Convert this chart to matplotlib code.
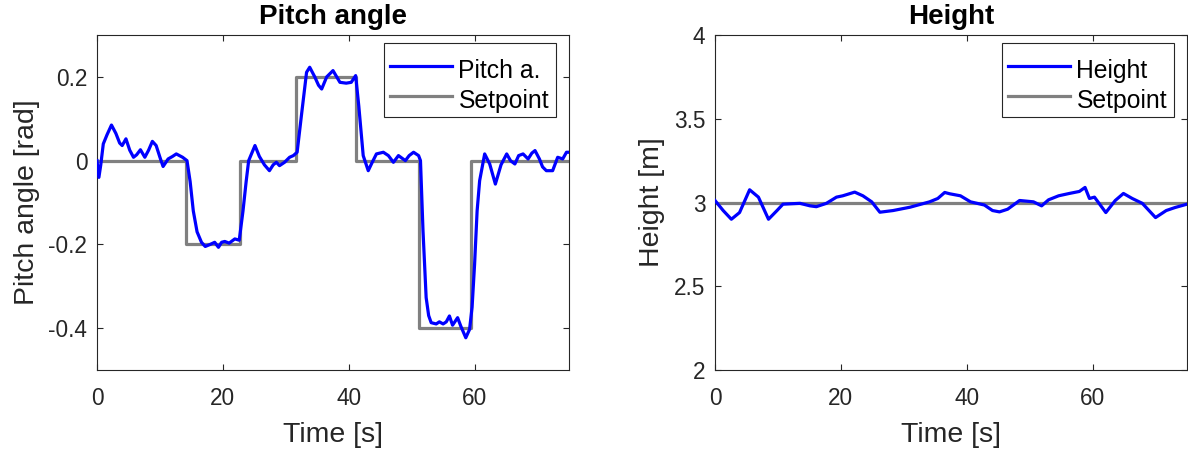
import matplotlib
matplotlib.use("Agg")
import matplotlib.pyplot as plt
import matplotlib.transforms as mtransforms
import numpy as np

plt.rcParams['font.family'] = ['Liberation Sans', 'DejaVu Sans']

# ---- data ----
t_pitch = [0, 0.3, 0.6, 1.0, 1.6, 2.3, 3.0, 3.6, 4.0, 4.6, 5.2, 5.8, 6.3, 6.9, 7.6,
           8.2, 8.8, 9.4, 10.0, 10.5, 11.3, 12.0, 12.6, 13.6, 14.3, 14.8, 15.3, 15.9,
           16.6, 17.2, 18.0, 18.7, 19.3, 19.8, 20.3, 21.0, 21.9, 22.6, 23.2, 23.7,
           24.1, 25.1, 25.8, 26.6, 27.4, 28.0, 28.5, 29.0, 29.8, 30.6, 31.2, 31.8,
           32.5, 33.3, 33.8, 34.6, 35.2, 35.7, 36.5, 37.5, 38.6, 39.6, 40.4, 41.1,
           41.6, 42.3, 43.1, 43.7, 44.4, 45.5, 46.3, 47.1, 47.9, 49.0, 49.6, 50.3,
           51.1, 51.4, 51.8, 52.3, 52.7, 53.1, 53.9, 54.4, 55.0, 55.5, 56.0, 56.5,
           57.3, 57.8, 58.6, 59.2, 59.6, 60.0, 60.4, 60.8, 61.6, 62.4, 63.3, 64.2,
           65.1, 65.7, 66.4, 67.0, 67.7, 68.5, 69.1, 69.6, 70.3, 70.8, 71.4, 72.4,
           73.2, 74.0, 74.6, 75.0]
pitch = [0.0, -0.04, -0.01, 0.04, 0.062, 0.085, 0.065, 0.042, 0.036, 0.052, 0.025,
         0.008, 0.014, 0.026, 0.008, 0.025, 0.046, 0.036, 0.008, -0.014, 0.004, 0.01,
         0.016, 0.008, 0.0, -0.05, -0.12, -0.17, -0.195, -0.205, -0.2, -0.195, -0.207,
         -0.195, -0.193, -0.197, -0.187, -0.19, -0.12, -0.05, 0.0, 0.036, 0.01, -0.01,
         -0.024, -0.01, -0.004, -0.012, -0.004, 0.008, 0.012, 0.02, 0.11, 0.211, 0.223,
         0.2, 0.18, 0.171, 0.2, 0.215, 0.187, 0.185, 0.187, 0.203, 0.13, 0.012, -0.024,
         -0.005, 0.016, 0.02, 0.012, -0.004, 0.012, 0.0, 0.012, 0.02, 0.012, 0.0,
         -0.167, -0.327, -0.37, -0.387, -0.39, -0.385, -0.39, -0.385, -0.371, -0.393,
         -0.375, -0.395, -0.423, -0.403, -0.35, -0.247, -0.12, -0.048, 0.016, -0.008,
         -0.056, -0.01, 0.016, 0.0, -0.008, 0.012, 0.016, 0.004, 0.018, 0.024, 0.004,
         -0.015, -0.024, -0.024, 0.008, 0.004, 0.02, 0.02]

# setpoint steps (time of change, new value)
t_setpoint = [0, 14.2, 22.7, 31.6, 41.1, 51.1, 59.5, 75]
pitch_setpoint = [0, -0.2, 0, 0.2, 0, -0.4, 0, 0]

t_height = [0, 1.3, 2.6, 3.9, 5.5, 6.9, 8.5, 9.8, 10.8, 13.5, 15.1, 16.1, 17.7, 19.3,
            20.3, 22.2, 23.5, 24.9, 26.2, 28.3, 31.0, 34.1, 35.4, 36.5, 37.3, 39.0,
            40.6, 42.8, 44.1, 45.2, 46.5, 48.4, 50.6, 51.9, 53.0, 54.6, 56.3, 57.9,
            58.8, 59.5, 60.3, 62.1, 63.6, 64.9, 66.3, 67.9, 70.0, 71.7, 73.1, 75.0]
height = [3.012, 2.952, 2.90, 2.94, 3.076, 3.032, 2.90, 2.95, 2.99, 2.995, 2.98,
          2.975, 2.995, 3.032, 3.04, 3.062, 3.04, 3.004, 2.942, 2.952, 2.972, 3.004,
          3.024, 3.06, 3.052, 3.04, 3.004, 2.985, 2.952, 2.944, 2.96, 3.012, 3.004,
          2.98, 3.016, 3.04, 3.054, 3.066, 3.09, 3.024, 3.032, 2.94, 3.012, 3.054,
          3.024, 2.995, 2.91, 2.952, 2.97, 2.99]
height_setpoint = [3.0, 3.0]
t_height_sp = [0, 75]

assert len(t_pitch) == len(pitch)
assert len(t_height) == len(height)

# ---- style ----
AX = (0.15, 0.15, 0.15)
BLUE = (0, 0, 1)
GRAY = (0.5, 0.5, 0.5)
TICK_FS = 16.3
LABEL_FS = 20.5
TITLE_FS = 20
LEG_FS = 17.8
LW = 2.3

fig = plt.figure(figsize=(11.88, 4.54), dpi=100)
ax1 = fig.add_axes([97/1188, 84/454, 472/1188, 335/454])
ax2 = fig.add_axes([715/1188, 84/454, 472/1188, 335/454])


def style(ax):
    for s in ax.spines.values():
        s.set_color(AX)
        s.set_linewidth(0.8)
    ax.tick_params(direction='in', length=4, width=0.8, colors=AX,
                   labelsize=TICK_FS, top=True, right=True)
    ax.tick_params(axis='x', pad=12)
    ax.tick_params(axis='y', pad=7)
    ax.set_xlabel('Time [s]', fontsize=LABEL_FS, color=AX, labelpad=9)


ax1.plot(t_pitch, pitch, color=BLUE, lw=LW, label='Pitch a.', zorder=3)
ax1.step(t_setpoint, pitch_setpoint, where='post', color=GRAY, lw=LW,
         label='Setpoint', zorder=2)
ax1.set_xlim(0, 75)
ax1.set_ylim(-0.5, 0.3)
ax1.set_xticks([0, 20, 40, 60])
ax1.set_yticks([-0.4, -0.2, 0, 0.2])
ax1.set_yticklabels(['-0.4', '-0.2', '0', '0.2'])
ax1.set_title('Pitch angle', fontsize=TITLE_FS, fontweight='bold', pad=8)
ax1.set_ylabel('Pitch angle [rad]', fontsize=LABEL_FS, color=AX, labelpad=6)
style(ax1)

ax2.plot(t_height, height, color=BLUE, lw=LW, label='Height', zorder=3)
ax2.plot(t_height_sp, height_setpoint, color=GRAY, lw=LW, label='Setpoint', zorder=2)
ax2.set_xlim(0, 75)
ax2.set_ylim(2, 4)
ax2.set_xticks([0, 20, 40, 60])
ax2.set_yticks([2, 2.5, 3, 3.5, 4])
ax2.set_yticklabels(['2', '2.5', '3', '3.5', '4'])
ax2.set_title('Height', fontsize=TITLE_FS, fontweight='bold', pad=8)
ax2.set_ylabel('Height [m]', fontsize=LABEL_FS, color=AX, labelpad=6)
style(ax2)

shift = mtransforms.ScaledTranslation(0, -4.5 / 100, fig.dpi_scale_trans)
for ax in (ax1, ax2):
    leg = ax.legend(loc='upper right', bbox_to_anchor=(0.9725, 0.976),
                    borderaxespad=0, fontsize=LEG_FS, fancybox=False,
                    framealpha=1, edgecolor=AX, handlelength=2.5,
                    handleheight=1.5, handletextpad=0.25, borderpad=0.28,
                    labelspacing=0.0)
    leg.get_frame().set_linewidth(0.8)
    for txt in leg.get_texts():
        txt.set_transform(txt.get_transform() + shift)
    for ln in leg.get_lines():
        ln.set_transform(ln.get_transform() + shift)

fig.savefig('out.png', dpi=100)
